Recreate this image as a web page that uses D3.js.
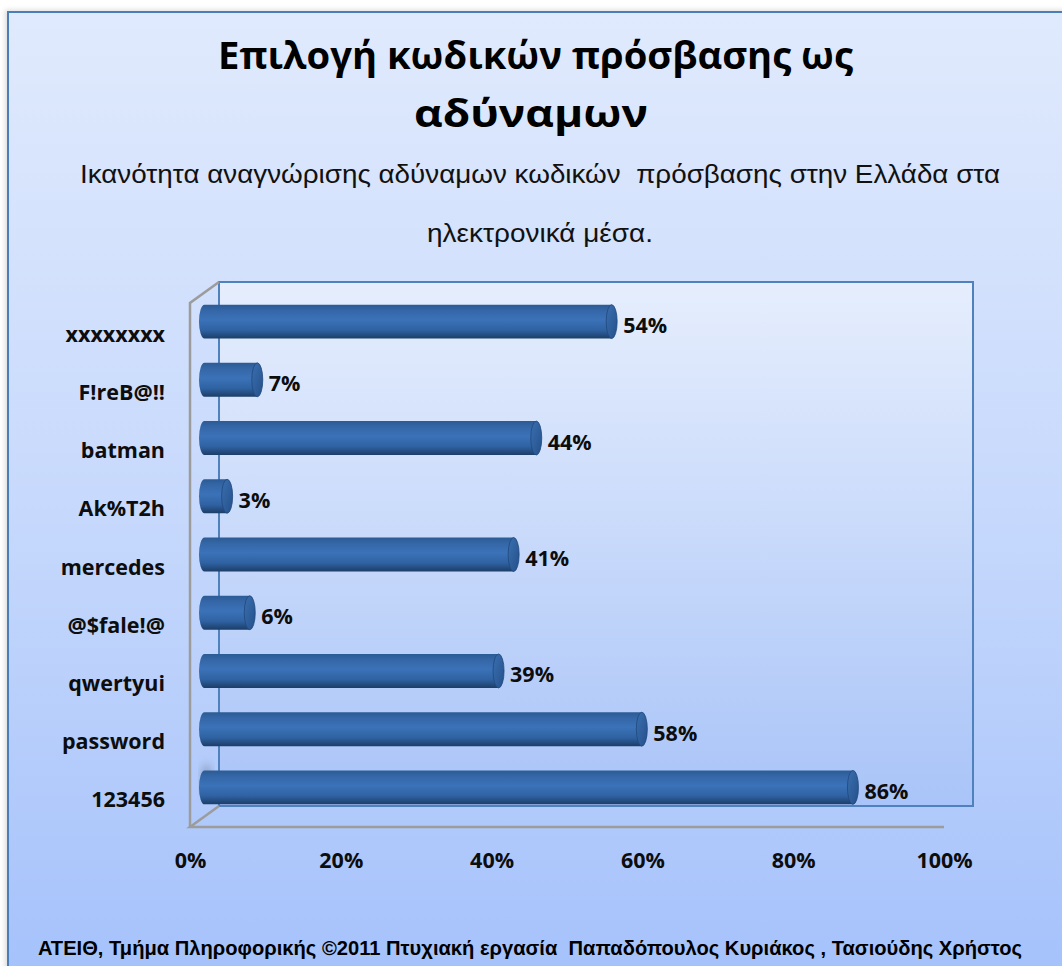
<!DOCTYPE html>
<html>
<head>
<meta charset="utf-8">
<script src="https://cdn.jsdelivr.net/npm/d3@7"></script>
<style>
  html, body { margin: 0; padding: 0; background: #ffffff; }
  svg { display: block; }
  .pre { white-space: pre; }
</style>
</head>
<body>
<svg id="chart" width="1062" height="966"></svg>
<script>
// Password recognition survey: share of respondents judging each password as weak
const categories = ["xxxxxxxx", "F!reB@!!", "batman", "Ak%T2h", "mercedes", "@$fale!@", "qwertyui", "password", "123456"];
const values = [54, 7, 44, 3, 41, 6, 39, 58, 86];
const tickValues = [0, 20, 40, 60, 80, 100];

const titleLines = ["Επιλογή κωδικών πρόσβασης ως", "αδύναμων"];
const subtitleLines = ["Ικανότητα αναγνώρισης αδύναμων κωδικών  πρόσβασης στην Ελλάδα στα", "ηλεκτρονικά μέσα."];
const footer = "ΑΤΕΙΘ, Τμήμα Πληροφορικής ©2011 Πτυχιακή εργασία  Παπαδόπουλος Κυριάκος , Τασιούδης Χρήστος";

const svg = d3.select("#chart");
const defs = svg.append("defs");

// Plot geometry: front plane of the 3-D box, with depth offset to the back wall
const front = { left: 190, right: 944, top: 303, bottom: 827 };
const depth = { dx: 29, dy: -21 };

const x = d3.scaleLinear().domain([0, 100]).range([front.left, front.right]);
const y = d3.scaleBand().domain(categories).range([front.top, front.bottom])
  .paddingInner(0.417).paddingOuter(0.2085);

// ---- gradients & filters ----
const bg = defs.append("linearGradient").attr("id", "bgGrad").attr("x1", 0).attr("y1", 0).attr("x2", 0).attr("y2", 1);
bg.append("stop").attr("offset", "0%").attr("stop-color", "#e0eafd");
bg.append("stop").attr("offset", "50%").attr("stop-color", "#c7d9fc");
bg.append("stop").attr("offset", "100%").attr("stop-color", "#a4c1fb");

const wall = defs.append("linearGradient").attr("id", "wallGrad").attr("x1", 0).attr("y1", 0).attr("x2", 0).attr("y2", 1);
wall.append("stop").attr("offset", "0%").attr("stop-color", "#e6eefd");
wall.append("stop").attr("offset", "100%").attr("stop-color", "#a9c4f8");

const cyl = defs.append("linearGradient").attr("id", "cylGrad").attr("x1", 0).attr("y1", 0).attr("x2", 0).attr("y2", 1);
cyl.append("stop").attr("offset", "0%").attr("stop-color", "#2c5b94");
cyl.append("stop").attr("offset", "18%").attr("stop-color", "#3567a8");
cyl.append("stop").attr("offset", "45%").attr("stop-color", "#3b72b8");
cyl.append("stop").attr("offset", "75%").attr("stop-color", "#2f62a2");
cyl.append("stop").attr("offset", "100%").attr("stop-color", "#1c3d68");

const cap = defs.append("linearGradient").attr("id", "capGrad").attr("x1", 0).attr("y1", 0).attr("x2", 1).attr("y2", 1);
cap.append("stop").attr("offset", "0%").attr("stop-color", "#3b6fb0");
cap.append("stop").attr("offset", "100%").attr("stop-color", "#24508a");

const shadowF = defs.append("filter").attr("id", "soft").attr("x", "-50%").attr("y", "-50%").attr("width", "200%").attr("height", "200%");
shadowF.append("feGaussianBlur").attr("stdDeviation", 4);

const blur2 = defs.append("filter").attr("id", "soft2").attr("x", "-50%").attr("y", "-50%").attr("width", "200%").attr("height", "200%");
blur2.append("feGaussianBlur").attr("stdDeviation", 2.5);

// ---- outer frame ----
svg.append("rect").attr("x", 5).attr("y", 10).attr("width", 1080).attr("height", 980)
  .attr("fill", "#b0b0b0").attr("opacity", 0.45).attr("filter", "url(#soft2)");
svg.append("rect").attr("x", 8).attr("y", 12).attr("width", 1080).attr("height", 980)
  .attr("fill", "url(#bgGrad)").attr("stroke", "#4a7ebb").attr("stroke-width", 2);

// ---- titles ----
const titleFont = "'Open Sans', 'Noto Sans', sans-serif";
const t = svg.append("g").attr("font-family", titleFont).attr("font-weight", "bold").attr("fill", "#000");
const titleSpecs = [
  { cx: 535.5, base: 69, width: 635 },
  { cx: 531, base: 127, width: 234 }
];
titleLines.forEach((s, i) => {
  t.append("text").attr("x", titleSpecs[i].cx).attr("y", titleSpecs[i].base)
    .attr("text-anchor", "middle").attr("font-size", 38)
    .attr("textLength", titleSpecs[i].width).attr("lengthAdjust", "spacingAndGlyphs")
    .text(s);
});

const subFont = "'Liberation Sans', Arial, sans-serif";
const subSpecs = [
  { cx: 540, base: 183, width: 920 },
  { cx: 540, base: 242, width: 226 }
];
subtitleLines.forEach((s, i) => {
  svg.append("text").attr("class", "pre").attr("x", subSpecs[i].cx).attr("y", subSpecs[i].base)
    .attr("text-anchor", "middle").attr("font-family", subFont).attr("font-size", 26.5)
    .attr("fill", "#111")
    .attr("textLength", subSpecs[i].width).attr("lengthAdjust", "spacingAndGlyphs")
    .text(s);
});

// ---- 3-D box: back wall, side wall edges, floor edges ----
const plot = svg.append("g");
plot.append("rect")
  .attr("x", front.left + depth.dx).attr("y", front.top + depth.dy)
  .attr("width", front.right - front.left).attr("height", front.bottom - front.top)
  .attr("fill", "url(#wallGrad)").attr("stroke", "#4f81bd").attr("stroke-width", 2);

const grey = "#9c9c9c";
// side wall: vertical front edge + top diagonal
plot.append("path")
  .attr("d", `M${front.left},${front.bottom}V${front.top}L${front.left + depth.dx},${front.top + depth.dy}`)
  .attr("fill", "none").attr("stroke", grey).attr("stroke-width", 2.5);
// floor: front edge + left diagonal
plot.append("path")
  .attr("d", `M${front.right},${front.bottom}H${front.left}L${front.left + depth.dx},${front.bottom + depth.dy}`)
  .attr("fill", "none").attr("stroke", grey).attr("stroke-width", 2.5);

// ---- cylinder bars, centred midway in depth ----
const mid = { dx: depth.dx / 2, dy: depth.dy / 2 };
const rx = 5.5;
const data = categories.map((c, i) => ({ cat: c, v: values[i] }));

const bars = plot.append("g").selectAll("g.bar").data(data).join("g").attr("class", "bar");

// soft shadow at the base of the longest bar
bars.filter(d => d.v === d3.max(values))
  .append("ellipse")
  .attr("cx", x(0) + mid.dx + 2)
  .attr("cy", d => y(d.cat) + mid.dy + y.bandwidth() / 2 - 8)
  .attr("rx", 4).attr("ry", 16)
  .attr("fill", "#5a6a80").attr("opacity", 0.55).attr("filter", "url(#soft)");

bars.each(function (d) {
  const g = d3.select(this);
  const y0 = y(d.cat) + mid.dy;
  const h = y.bandwidth();
  const x0 = x(0) + mid.dx;
  const x1 = x(d.v) + mid.dx;
  const ry = h / 2;
  // body with rounded left end
  g.append("path")
    .attr("d", `M${x0},${y0}H${x1}V${y0 + h}H${x0}A${rx},${ry} 0 0 1 ${x0},${y0}Z`)
    .attr("fill", "url(#cylGrad)");
  // end cap
  g.append("ellipse")
    .attr("cx", x1).attr("cy", y0 + ry).attr("rx", rx).attr("ry", ry)
    .attr("fill", "url(#capGrad)").attr("stroke", "#1f487c").attr("stroke-width", 0.8);
});

// ---- value labels ----
const labelFont = "'Open Sans', 'Noto Sans', sans-serif";
plot.append("g").selectAll("text").data(data).join("text")
  .attr("x", d => x(d.v) + mid.dx + rx + 6)
  .attr("y", d => y(d.cat) + mid.dy + y.bandwidth() / 2 + 11.5)
  .attr("font-family", labelFont).attr("font-weight", "bold").attr("font-size", 21.5)
  .attr("fill", "#0d0d0d")
  .text(d => d.v + "%");

// ---- category axis ----
const yAxis = svg.append("g").attr("transform", "translate(165,0)")
  .call(d3.axisLeft(y).tickSize(0).tickPadding(0));
yAxis.select(".domain").remove();
yAxis.selectAll("text")
  .attr("x", 0).attr("dy", null)
  .attr("y", 9.5)
  .attr("font-family", labelFont).attr("font-weight", "bold").attr("font-size", 21.5)
  .attr("fill", "#0d0d0d");

// ---- value axis ----
const xAxis = svg.append("g").attr("transform", `translate(0,${front.bottom})`)
  .call(d3.axisBottom(x).tickValues(tickValues).tickFormat(d => d + "%").tickSize(0).tickPadding(0));
xAxis.select(".domain").remove();
xAxis.selectAll("text")
  .attr("dy", null).attr("y", 41)
  .attr("font-family", labelFont).attr("font-weight", "bold").attr("font-size", 21.5)
  .attr("fill", "#0d0d0d");

// ---- footer ----
svg.append("text").attr("class", "pre").attr("x", 530).attr("y", 955)
  .attr("text-anchor", "middle")
  .attr("font-family", "'Liberation Sans Narrow', 'Liberation Sans', Arial, sans-serif")
  .attr("font-weight", "bold").attr("font-size", 20).attr("fill", "#000")
  .attr("textLength", 984).attr("lengthAdjust", "spacingAndGlyphs")
  .text(footer);
</script>
</body>
</html>
